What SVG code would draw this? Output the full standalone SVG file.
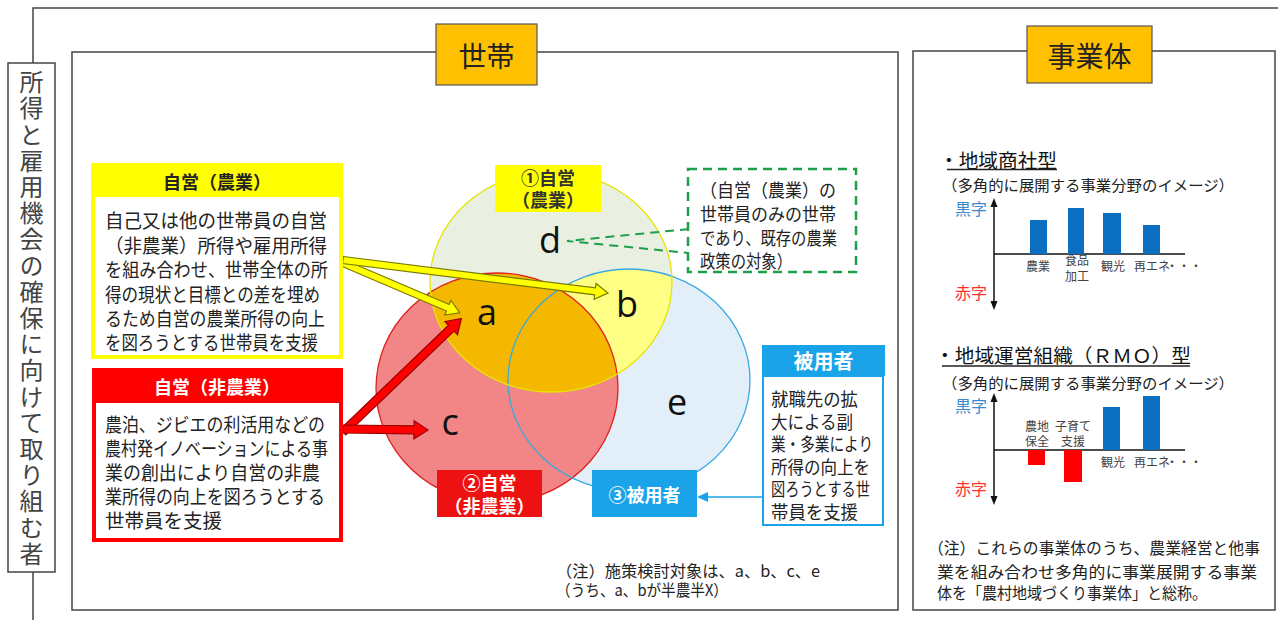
<svg xmlns="http://www.w3.org/2000/svg" width="1278" height="620" viewBox="0 0 1278 620">
<style>
.jp{font-family:"Noto Sans CJK JP","Noto Sans",sans-serif;}
.c{dominant-baseline:central;}
.body{font-size:19px;fill:#222;}
.frame{fill:none;stroke:#444;stroke-width:1.5;}
.hdr{fill:#ffc000;stroke:#555;stroke-width:1.2;}
.hdrtxt{font-size:28px;fill:#222;text-anchor:middle;}
.lbl{font-size:18px;font-weight:bold;text-anchor:middle;}
.let{font-family:"Open Sans","Noto Sans",sans-serif;font-size:36px;fill:#111;text-anchor:middle;}
.ya{fill:#ffff00;stroke:#7a7a00;stroke-width:1.2;}
.ra{fill:#ff0000;stroke:#900;stroke-width:1.2;}
.ax{stroke:#111;stroke-width:1.5;fill:none;}
.small{font-size:12px;fill:#444;text-anchor:middle;}
.blue{fill:#0a6fc0;}
.redb{fill:#ff0000;}
.vt{font-size:24px;fill:#444;writing-mode:vertical-rl;letter-spacing:2.2px;}
</style>
<defs>
<clipPath id="clipRed"><ellipse cx="497" cy="388" rx="121" ry="115"/></clipPath>
<clipPath id="clipBlue"><ellipse cx="629" cy="380" rx="121" ry="111"/></clipPath>
</defs>
<rect width="1278" height="620" fill="#fff"/>

<!-- outer frame -->
<g id="outer">
<polyline class="frame" points="33,63 33,8 1278,8"/>
<line class="frame" x1="33" y1="572" x2="33" y2="620"/>
<rect x="8" y="63" width="47" height="509" fill="#fff" stroke="#444" stroke-width="1.5"/>
<text class="jp vt" x="31.5" y="70">所得と雇用機会の確保に向けて取り組む者</text>
</g>

<!-- household panel -->
<g id="panel-setai">
<rect class="frame" x="72" y="52" width="826" height="558"/>
<rect class="hdr" x="436" y="24" width="101" height="61"/>
<text class="jp c hdrtxt" x="486.5" y="55">世帯</text>
</g>

<!-- venn circles -->
<g id="venn">
<ellipse cx="551" cy="282" rx="121" ry="110" fill="#e9f0e2"/>
<ellipse cx="629" cy="380" rx="121" ry="111" fill="#e3eff8"/>
<ellipse cx="497" cy="388" rx="121" ry="115" fill="#f28585"/>
<ellipse cx="551" cy="282" rx="121" ry="110" fill="#ffff85" clip-path="url(#clipBlue)"/>
<ellipse cx="551" cy="282" rx="121" ry="110" fill="#f5b800" clip-path="url(#clipRed)"/>
<ellipse cx="497" cy="388" rx="121" ry="115" fill="none" stroke="#e02020" stroke-width="1.3"/>
<ellipse cx="629" cy="380" rx="121" ry="111" fill="none" stroke="#3aa8e0" stroke-width="1.3"/>
<ellipse cx="551" cy="282" rx="121" ry="110" fill="none" stroke="#e8e400" stroke-width="1.3"/>
<text class="let" x="550" y="253">d</text>
<text class="let" x="487" y="325">a</text>
<text class="let" x="627" y="317">b</text>
<text class="let" x="450" y="435">c</text>
<text class="let" x="677" y="415">e</text>
</g>

<g id="label-1">
<rect x="495" y="165" width="106" height="47" fill="#ffff00"/>
<text class="jp c lbl" fill="#333"><tspan x="548" y="177">①自営</tspan><tspan x="548" y="199">（農業）</tspan></text>
</g>
<g id="label-2">
<rect x="437" y="470" width="105" height="47" fill="#ee1111"/>
<text class="jp c lbl" fill="#fff"><tspan x="489.5" y="482">②自営</tspan><tspan x="489.5" y="505">（非農業）</tspan></text>
</g>
<g id="label-3">
<rect x="592" y="470" width="105" height="47" fill="#1aa3e8"/>
<text class="jp c lbl" x="644.5" y="494" fill="#fff">③被用者</text>
</g>

<!-- connectors -->
<g id="connectors">
<polygon class="ya" points="0,-3.5 114,-3.5 114,-8 127,0 114,8 114,3.5 0,3.5" transform="translate(343,263) rotate(23.1)"/>
<polygon class="ya" points="0,-3.5 254,-3.5 254,-8 267,0 254,8 254,3.5 0,3.5" transform="translate(343,260) rotate(7.1)"/>
<polygon class="ra" points="0,-4 150,-4 150,-9 164,0 150,9 150,4 0,4" transform="translate(343,432) rotate(-43.8)"/>
<polygon class="ra" points="0,-4 71,-4 71,-9 85,0 71,9 71,4 0,4" transform="translate(343,429) rotate(0.7)"/>
<path d="M689,229 L567,241 L689,253" fill="none" stroke="#1f9e4a" stroke-width="2" stroke-dasharray="9,6"/>
<line x1="762" y1="497" x2="706" y2="497" stroke="#1aa3e8" stroke-width="1.5"/>
<polygon points="697,497 708,492 708,502" fill="#1aa3e8"/>
</g>

<g id="box-nogyo">
<rect x="91" y="163" width="252" height="33" fill="#ffff00"/>
<rect x="93" y="195" width="248" height="162" fill="#fff" stroke="#ffff00" stroke-width="4"/>
<text class="jp c" x="217" y="181" font-size="18" font-weight="bold" fill="#222" text-anchor="middle">自営（農業）</text>
<text class="jp c body"><tspan x="105" y="219" textLength="222" lengthAdjust="spacingAndGlyphs">自己又は他の世帯員の自営</tspan><tspan x="105" y="243.5" textLength="222" lengthAdjust="spacingAndGlyphs">（非農業）所得や雇用所得</tspan><tspan x="105" y="268" textLength="223" lengthAdjust="spacingAndGlyphs">を組み合わせ、世帯全体の所</tspan><tspan x="105" y="292.5" textLength="215" lengthAdjust="spacingAndGlyphs">得の現状と目標との差を埋め</tspan><tspan x="105" y="317" textLength="220" lengthAdjust="spacingAndGlyphs">るため自営の農業所得の向上</tspan><tspan x="105" y="341" textLength="213" lengthAdjust="spacingAndGlyphs">を図ろうとする世帯員を支援</tspan></text>
</g>

<g id="box-hinogyo">
<rect x="92" y="368" width="251" height="34" fill="#ff0000"/>
<rect x="94" y="401" width="247" height="139" fill="#fff" stroke="#ff0000" stroke-width="4"/>
<text class="jp c" x="217" y="386" font-size="18" font-weight="bold" fill="#fff" text-anchor="middle">自営（非農業）</text>
<text class="jp c body"><tspan x="105" y="423" textLength="220" lengthAdjust="spacingAndGlyphs">農泊、ジビエの利活用などの</tspan><tspan x="105" y="447" textLength="223" lengthAdjust="spacingAndGlyphs">農村発イノベーションによる事</tspan><tspan x="105" y="471" textLength="215" lengthAdjust="spacingAndGlyphs">業の創出により自営の非農</tspan><tspan x="105" y="495" textLength="220" lengthAdjust="spacingAndGlyphs">業所得の向上を図ろうとする</tspan><tspan x="105" y="519" textLength="117" lengthAdjust="spacingAndGlyphs">世帯員を支援</tspan></text>
</g>

<g id="box-dashed">
<rect x="688" y="169" width="168" height="103" fill="#fff" stroke="#1f9e4a" stroke-width="2.5" stroke-dasharray="9,6"/>
<text class="jp c" font-size="18" fill="#222"><tspan x="700" y="189" textLength="136" lengthAdjust="spacingAndGlyphs">（自営（農業）の</tspan><tspan x="700" y="213" textLength="136" lengthAdjust="spacingAndGlyphs">世帯員のみの世帯</tspan><tspan x="700" y="237" textLength="137" lengthAdjust="spacingAndGlyphs">であり、既存の農業</tspan><tspan x="700" y="260" textLength="92" lengthAdjust="spacingAndGlyphs">政策の対象）</tspan></text>
</g>

<g id="box-hiyosha">
<rect x="762" y="345" width="123" height="31" fill="#1aa3e8"/>
<rect x="763" y="376" width="120" height="149" fill="#fff" stroke="#1aa3e8" stroke-width="2"/>
<text class="jp c" x="823.5" y="360" font-size="20" font-weight="bold" fill="#fff" text-anchor="middle">被用者</text>
<text class="jp c" font-size="18" fill="#222"><tspan x="771" y="398" textLength="87" lengthAdjust="spacingAndGlyphs">就職先の拡</tspan><tspan x="771" y="421" textLength="82" lengthAdjust="spacingAndGlyphs">大による副</tspan><tspan x="771" y="443" textLength="102" lengthAdjust="spacingAndGlyphs">業・多業により</tspan><tspan x="771" y="466" textLength="99" lengthAdjust="spacingAndGlyphs">所得の向上を</tspan><tspan x="771" y="488" textLength="99" lengthAdjust="spacingAndGlyphs">図ろうとする世</tspan><tspan x="771" y="511" textLength="87" lengthAdjust="spacingAndGlyphs">帯員を支援</tspan></text>
</g>

<g id="note-setai">
<text class="jp c" font-size="16" fill="#222"><tspan x="556" y="570" textLength="264" lengthAdjust="spacingAndGlyphs">（注）施策検討対象は、a、b、c、e</tspan><tspan x="556" y="589" textLength="172" lengthAdjust="spacingAndGlyphs">（うち、a、bが半農半X）</tspan></text>
</g>

<!-- business panel -->
<g id="panel-jigyotai">
<rect class="frame" x="913" y="51" width="362" height="559"/>
<rect class="hdr" x="1027" y="26" width="125" height="57"/>
<text class="jp c hdrtxt" x="1089.5" y="55">事業体</text>
</g>

<g id="chart-shosha">
<text class="jp c" font-size="19" fill="#111" x="939" y="159" textLength="118" lengthAdjust="spacingAndGlyphs">・地域商社型</text>
<line x1="947" y1="169.5" x2="1057" y2="169.5" stroke="#222" stroke-width="1.5"/>
<text class="jp c" font-size="15" fill="#222" x="942" y="184" textLength="292" lengthAdjust="spacingAndGlyphs">（多角的に展開する事業分野のイメージ）</text>
<text class="jp c" font-size="16" fill="#3a8ad0" x="955" y="208">黒字</text>
<text class="jp c" font-size="16" fill="#ff3030" x="955" y="292">赤字</text>
<line class="ax" x1="994" y1="205" x2="994" y2="303"/>
<polygon points="994,198 990.5,207 997.5,207" fill="#111"/>
<polygon points="994,310 990.5,301 997.5,301" fill="#111"/>
<line class="ax" x1="994" y1="254" x2="1185" y2="254"/>
<rect class="blue" x="1030" y="220" width="17" height="34"/>
<rect class="blue" x="1068" y="208" width="16" height="46"/>
<rect class="blue" x="1103" y="213" width="18" height="41"/>
<rect class="blue" x="1143" y="225" width="17" height="29"/>
<text class="jp c small" x="1038" y="265">農業</text>
<text class="jp c small"><tspan x="1077" y="259">食品</tspan><tspan x="1077" y="275">加工</tspan></text>
<text class="jp c small" x="1113" y="265">観光</text>
<text class="jp c small" x="1152" y="265">再エネ</text>
<text class="jp c small" x="1184" y="265">・・・</text>
</g>

<g id="chart-rmo">
<text class="jp c" font-size="19" fill="#111" x="935" y="354" textLength="256" lengthAdjust="spacingAndGlyphs">・地域運営組織（ＲＭＯ）型</text>
<line x1="942" y1="366" x2="1190" y2="366" stroke="#222" stroke-width="1.5"/>
<text class="jp c" font-size="15" fill="#222" x="942" y="382" textLength="292" lengthAdjust="spacingAndGlyphs">（多角的に展開する事業分野のイメージ）</text>
<text class="jp c" font-size="16" fill="#3a8ad0" x="955" y="405">黒字</text>
<text class="jp c" font-size="16" fill="#ff3030" x="955" y="488">赤字</text>
<line class="ax" x1="994" y1="400" x2="994" y2="498"/>
<polygon points="994,393 990.5,402 997.5,402" fill="#111"/>
<polygon points="994,505 990.5,496 997.5,496" fill="#111"/>
<line class="ax" x1="994" y1="450" x2="1185" y2="450"/>
<rect class="redb" x="1028" y="450" width="17" height="15"/>
<rect class="redb" x="1064" y="450" width="18" height="32"/>
<rect class="blue" x="1103" y="407" width="17" height="43"/>
<rect class="blue" x="1143" y="396" width="17" height="54"/>
<text class="jp c small"><tspan x="1037" y="425">農地</tspan><tspan x="1037" y="440">保全</tspan></text>
<text class="jp c small"><tspan x="1073" y="425">子育て</tspan><tspan x="1073" y="440">支援</tspan></text>
<text class="jp c small" x="1113" y="461">観光</text>
<text class="jp c small" x="1152" y="461">再エネ</text>
<text class="jp c small" x="1184" y="461">・・・</text>
</g>

<g id="note-jigyotai">
<text class="jp c" font-size="16" fill="#222"><tspan x="928" y="547" textLength="332" lengthAdjust="spacingAndGlyphs">（注）これらの事業体のうち、農業経営と他事</tspan><tspan x="937" y="571" textLength="320" lengthAdjust="spacingAndGlyphs">業を組み合わせ多角的に事業展開する事業</tspan><tspan x="937" y="592" textLength="270" lengthAdjust="spacingAndGlyphs">体を「農村地域づくり事業体」と総称。</tspan></text>
</g>
</svg>
